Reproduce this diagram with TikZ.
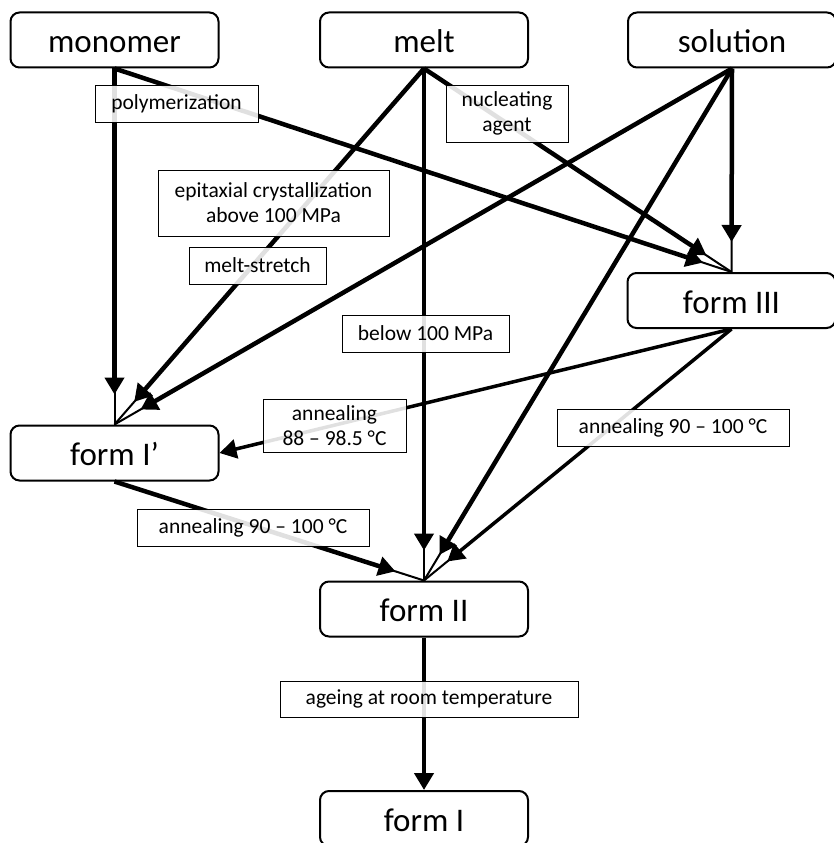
\documentclass[tikz,border=0pt]{standalone}
\usepackage{fontspec}
\setmainfont{Carlito}
\usetikzlibrary{positioning}
\usetikzlibrary{arrows.meta}
\tikzset{
    formbox/.style = {rectangle, draw, line width=2pt, rounded corners=9pt, minimum width=208pt, minimum height=55pt, inner sep=0pt, text height=27pt, text depth=2pt, font=\fontsize{33}{38}\selectfont},
    labelbox/.style = {rectangle, draw, line width=0.9pt, fill=white, fill opacity=0.88, text opacity=1, minimum height=37pt, inner sep=0pt, align=center, font=\fontsize{21.5}{25}\selectfont},
    tailarrow/.style = {line width=4.5pt, -{Triangle[length=17pt,width=19pt]}, shorten >=30pt, preaction={draw, line width=2pt, -, shorten >=0pt}},
    plainarrow/.style = {line width=4.5pt, -{Triangle[length=17pt,width=19pt]}}}

\begin{document}
\begin{tikzpicture}[x=1pt,y=-1pt]
        \useasboundingbox (0,0) rectangle (834,843);
        \path (114.5,40) node[formbox] (mono) {monomer}
        (424,40) node[formbox] (melt) {melt}
        (732,40) node[formbox] (sol) {solution}
        (731.5,300.5) node[formbox] (fIII) {form III}
        (114.5,453) node[formbox] (fIp) {form I’}
        (424,609) node[formbox] (fII) {form II}
        (424,818.5) node[formbox] (fI) {form I};
        \draw[tailarrow] (mono.south) -- (fIp.north);
        \draw[tailarrow] (mono.south) -- (fIII.north);
        \draw[tailarrow] (melt.south) -- (fIp.north);
        \draw[tailarrow] (melt.south) -- (fII.north);
        \draw[tailarrow] (melt.south) -- (fIII.north);
        \draw[tailarrow] (sol.south) -- (fIp.north);
        \draw[tailarrow] (sol.south) -- (fII.north);
        \draw[tailarrow] (sol.south) -- (fIII.north);
        \draw[plainarrow, line width=3.5pt] (fIII.south) -- (fIp.east);
        \draw[tailarrow, line width=3.5pt] (fIII.south) -- (fII.north);
        \draw[tailarrow] (fIp.south) -- (fII.north);
        \draw[plainarrow] (fII.south) -- (fI.north);
        \path (176.5,103.5) node[labelbox, minimum width=163pt] (lpoly) {polymerization}
        (273.5,203) node[labelbox, minimum width=231pt, minimum height=66pt] (lepi) {epitaxial crystallization\\above 100 MPa}
        (257.5,265.5) node[labelbox, minimum width=137pt] (lstretch) {melt-stretch}
        (507,113.5) node[labelbox, minimum width=122pt, minimum height=57pt] (lnuc) {nucleating\\agent}
        (425.5,333.5) node[labelbox, minimum width=167pt] (lbelow) {below 100 MPa}
        (334.5,425.5) node[labelbox, minimum width=143pt, minimum height=53pt] (lannA) {annealing\\88 – 98.5 °C}
        (673,427.5) node[labelbox, minimum width=232pt] (lannB) {annealing 90 – 100 °C}
        (253,527.5) node[labelbox, minimum width=232pt] (lannC) {annealing 90 – 100 °C}
        (429,699) node[labelbox, minimum width=298pt, minimum height=36pt] (lage) {ageing at room temperature};
\end{tikzpicture}
\end{document}
